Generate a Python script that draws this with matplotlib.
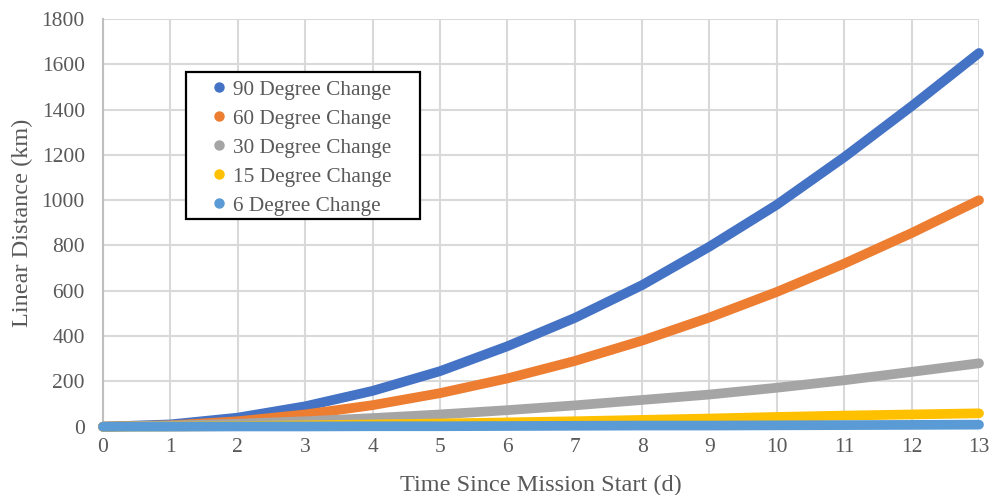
import matplotlib
matplotlib.use("Agg")
import matplotlib.pyplot as plt
from matplotlib.lines import Line2D
from matplotlib.patches import Rectangle

# Days since mission start
days = [0, 1, 2, 3, 4, 5, 6, 7, 8, 9, 10, 11, 12, 13]

# Linear distance (km) for each plane-change angle
deg90 = [0, 10, 40, 90, 158, 245, 355, 480, 625, 795, 980, 1190, 1415, 1650]
deg60 = [0, 6, 24, 54, 95, 148, 213, 290, 380, 482, 595, 720, 855, 1000]
deg30 = [0, 5, 13, 24, 38, 54, 73, 94, 118, 142, 172, 205, 242, 280]
deg15 = [0, 1, 3, 6, 10, 14, 19, 24, 30, 36, 43, 49, 54, 59]
deg6 = [0, 0, 1, 1, 2, 2, 3, 4, 5, 5, 6, 7, 8, 9]

series_names = ["90 Degree Change", "60 Degree Change", "30 Degree Change",
                "15 Degree Change", "6 Degree Change"]
series_values = [deg90, deg60, deg30, deg15, deg6]
colors = ["#4472C4", "#ED7D31", "#A5A5A5", "#FFC000", "#5B9BD5"]

x_ticks = list(range(0, 14))
y_ticks = list(range(0, 1801, 200))

text_color = "#595959"
serif = ["Liberation Serif", "DejaVu Serif"]

W, H = 989, 495
fig = plt.figure(figsize=(W / 100, H / 100), dpi=100)
ax = fig.add_axes([0.1041, 0.138, 0.8858, 0.8236])

for vals, col in zip(series_values, colors):
    ax.plot(days, vals, color=col, lw=7, solid_capstyle="round",
            solid_joinstyle="round", zorder=3, clip_on=False)

ax.set_xlim(0, 13)
ax.set_ylim(0, 1800)
ax.set_xticks(x_ticks)
ax.set_yticks(y_ticks)
ax.grid(True, color="#D9D9D9", lw=1.5, zorder=0)
ax.set_axisbelow(True)

for side in ["top", "right", "bottom"]:
    ax.spines[side].set_visible(False)
ax.spines["left"].set_color("#BFBFBF")
ax.spines["left"].set_linewidth(1.5)

ax.tick_params(axis="both", length=0, labelcolor=text_color, labelsize=15.5)
ax.tick_params(axis="y", pad=13)
ax.tick_params(axis="x", pad=8)
for lab in ax.get_xticklabels() + ax.get_yticklabels():
    lab.set_family(serif)

ax.set_xlabel("Time Since Mission Start (d)", fontsize=17.5, color=text_color,
              family=serif, labelpad=13)
ax.set_ylabel("Linear Distance (km)", fontsize=17.5, color=text_color,
              family=serif, labelpad=6)

# Legend entries without their own frame; a plain black box is drawn around them
handles = [Line2D([], [], ls="none", marker="o", ms=6.5, color=c) for c in colors]
leg = fig.legend(handles, series_names, loc="upper left",
                 bbox_to_anchor=(213 / W, 1 - 80 / H), frameon=False,
                 handlelength=0.6, handletextpad=0.35, labelspacing=0.43,
                 borderpad=0.0, borderaxespad=0.0,
                 prop={"family": serif, "size": 15.3})
for t in leg.get_texts():
    t.set_color(text_color)

fig.patches.append(Rectangle((186 / W, 1 - 219 / H), 234 / W, 147 / H,
                             transform=fig.transFigure, fill=True,
                             facecolor="white", edgecolor="black", lw=1.6,
                             zorder=4))
leg.set_zorder(5)

fig.savefig("out.png", dpi=100)
